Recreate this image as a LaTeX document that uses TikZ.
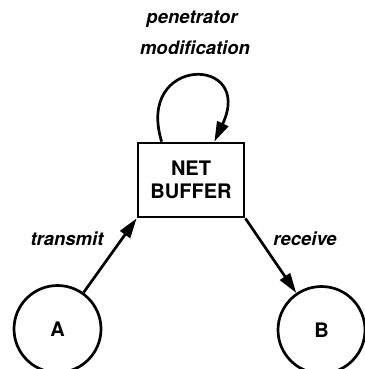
\documentclass[tikz,border=0pt]{standalone}
\usepackage{fontspec}
\setmainfont{TeX Gyre Heros}
\usetikzlibrary{arrows.meta,calc}
\begin{document}
\begin{tikzpicture}[x=1pt,y=-1pt,
  thickline/.style={line width=2.7pt},
  arrowline/.style={thickline,-{Triangle[length=20pt,width=12pt]}},
  station/.style={circle,draw,thickline,minimum size=87pt,inner sep=0pt,font=\fontsize{20}{21}\bfseries\selectfont},
  bufferbox/.style={draw,thickline,minimum width=106pt,minimum height=74pt,align=center,font=\fontsize{20}{23}\bfseries\selectfont},
  lbl/.style={font=\fontsize{18.5}{30}\bfseries\itshape\selectfont,align=center,inner sep=0pt}]
\useasboundingbox (0,0) rectangle (364,369);
\node[bufferbox] (box) at (191,180) {NET\\BUFFER};
\node[station] (A) at (57.5,329) {A};
\node[station] (B) at (321.5,330) {B};
\node[lbl] (pen) at (192,19) {penetrator};
\node[lbl] (mod) at (195,48) {modification};
\node[lbl] (tx) at (67,239) {transmit};
\node[lbl] (rx) at (305,239) {receive};
\coordinate (loopstart) at ($(box.north west)+(25,0)$);
\coordinate (loopend) at ($(box.north east)+(-31,0)$);
\draw[arrowline] (loopstart) .. controls (135,55) and (255,55) .. (loopend);
\draw[arrowline] (A) -- (box.south west);
\draw[arrowline] (box.south east) -- (B);
\end{tikzpicture}
\end{document}
